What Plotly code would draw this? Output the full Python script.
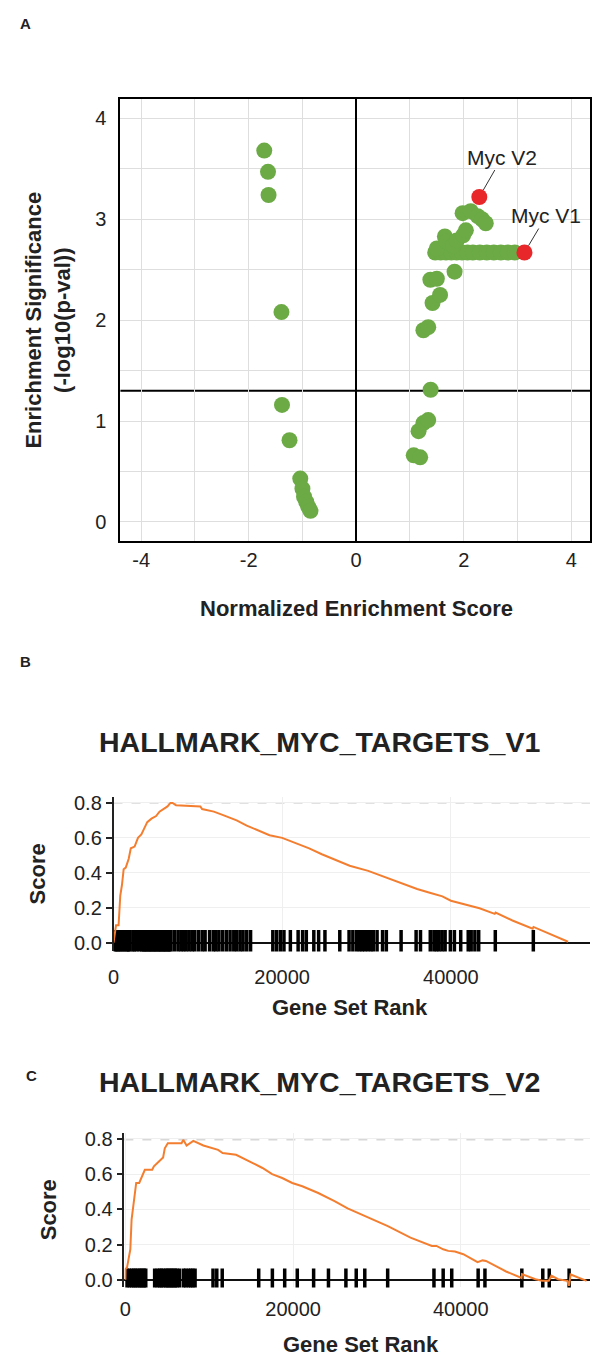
import math
import plotly.graph_objects as go

W, H = 592, 1359
FONT = "Liberation Sans, Arial, Helvetica, sans-serif"
GREEN = "#6BAA45"
RED = "#E8272A"
ORANGE = "#F47E30"
GRID = "#DEDEDE"
LIGHT = "#EFEFEF"
TXT = "#222222"

# ---------------- Panel A data ----------------
NES_OTHER = [-1.71, -1.64, -1.63, -1.39, -1.38, -1.24, -1.04, -1.00, -0.97, -0.93, -0.89, -0.85,
             1.07, 1.19, 1.16, 1.25, 1.34, 1.385,
             1.25, 1.34, 1.42, 1.56, 1.38, 1.50, 1.83,
             1.47, 1.57, 1.67, 1.77, 1.87, 1.97, 2.07, 2.17, 2.30, 2.43, 2.56, 2.69, 2.82, 2.95,
             1.50, 1.65, 1.68, 1.80, 1.87, 1.99, 2.04, 1.98, 2.13, 2.26, 2.34, 2.41]
SIG_OTHER = [3.68, 3.47, 3.24, 2.08, 1.16, 0.81, 0.43, 0.33, 0.25, 0.20, 0.15, 0.11,
             0.66, 0.64, 0.90, 0.98, 1.01, 1.31,
             1.90, 1.93, 2.17, 2.25, 2.40, 2.41, 2.48,
             2.67, 2.67, 2.67, 2.67, 2.67, 2.67, 2.67, 2.67, 2.67, 2.67, 2.67, 2.67, 2.67, 2.67,
             2.71, 2.83, 2.78, 2.74, 2.79, 2.84, 2.89, 3.06, 3.08, 3.03, 3.00, 2.96]
NES_MYC = [3.13, 2.29]
SIG_MYC = [2.67, 3.22]
MYC_LABELS = ["Myc V1", "Myc V2"]
SIG_THRESHOLD = -math.log10(0.05)
A_XTICKS = [-4, -2, 0, 2, 4]
A_XTICK_LABELS = ["-4", "-2", "0", "2", "4"]
A_YTICKS = [0, 1, 2, 3, 4]

# ---------------- Panel B data ----------------
B_RANK = [0, 300, 600, 800, 1000, 1200, 1450, 1800, 2050, 2500, 2900, 3300, 3600, 4000, 4500,
          5050, 5450, 6000, 6400, 6750, 7000, 7400, 8400, 9500, 10300, 10500, 11900, 13000,
          14600, 15800, 16900, 18500, 20000, 21600, 23200, 24700, 26300, 28000, 30200, 31700,
          32900, 34500, 36000, 37600, 39000, 40000, 41500, 42300, 43400, 45200, 45300, 47300,
          49700, 49800, 53900]
B_SCORE = [0.0, 0.10, 0.10, 0.27, 0.33, 0.42, 0.43, 0.48, 0.54, 0.55, 0.60, 0.62, 0.65, 0.69, 0.71,
           0.725, 0.75, 0.765, 0.78, 0.80, 0.80, 0.787, 0.785, 0.782, 0.78, 0.765, 0.75, 0.73,
           0.70, 0.67, 0.648, 0.615, 0.60, 0.57, 0.54, 0.506, 0.474, 0.44, 0.411, 0.383,
           0.364, 0.335, 0.307, 0.284, 0.265, 0.24, 0.222, 0.208, 0.197, 0.165, 0.172, 0.127,
           0.08, 0.09, 0.005]
B_HITS = [150, 350, 500, 700, 850, 1100, 1250, 1500, 1650, 1800, 1950, 2300, 2450, 2750, 3050,
          3350, 3500, 3650, 3800, 3950, 4100, 4250, 4400, 4550, 4700, 4850, 5000, 5150, 5300,
          5450, 5600, 5750, 5900, 6050, 6200, 6350, 6500, 6650, 6800,
          7200, 7640, 7990, 8300, 8610, 8960, 9310, 9630, 10070, 10510, 10860, 11390, 11830,
          12140, 12500, 12940, 13380, 13820, 14260, 14610, 15010, 15360, 15800, 16250,
          18890, 19330, 19780, 20210, 20970, 21890, 22420, 22860, 23750, 24320, 25070,
          26830, 27930, 28380, 28820, 29170, 29480, 29790, 30140, 30500, 30800, 31250, 31900,
          32350, 34100, 35880, 36400, 37560, 37990, 38300, 38600, 38960, 39320, 39940, 40420,
          41170, 42060, 42410, 42850, 43300, 45270, 49780]

# ---------------- Panel C data ----------------
C_RANK = [0, 20, 200, 350, 590, 740, 900, 1060, 1290, 1650, 1920, 2320, 3200, 3400, 4000, 4500,
          4700, 5060, 6700, 6900, 7300, 8100, 9300, 10500, 11060, 11600, 13200, 15200, 16350,
          17500, 18700, 19900, 21100, 23000, 25000, 26500, 27700, 28500, 31300, 34000, 36550,
          37100, 37900, 38500, 39300, 40300, 42000, 42600, 43000, 45400, 47250, 47300, 48900,
          49700, 50500, 50800, 51600, 52700, 52900, 53100, 53600, 55000]
C_SCORE = [0.0, 0.06, 0.07, 0.11, 0.173, 0.342, 0.408, 0.465, 0.55, 0.55, 0.578, 0.625, 0.625,
           0.644, 0.672, 0.695, 0.747, 0.776, 0.776, 0.795, 0.763, 0.789, 0.763, 0.744, 0.738,
           0.72, 0.71, 0.663, 0.635, 0.60, 0.578, 0.55, 0.531, 0.493, 0.446, 0.405, 0.38, 0.362,
           0.305, 0.239, 0.192, 0.192, 0.173, 0.164, 0.16, 0.145, 0.10, 0.11, 0.107, 0.047,
           0.01, 0.032, 0.003, -0.006, -0.006, 0.023, 0.003, -0.006, -0.034, 0.03, 0.02, -0.006]
C_HITS = [200, 470, 740, 980, 1180, 1410, 1650, 1850, 2040, 2240, 2430, 3490, 3800, 4080, 4270,
          4510, 4790, 4980, 5180, 5380, 5560, 5760, 5960, 6150, 6470, 6940, 7210, 7530, 7800,
          8040, 8310, 10450, 10900, 11550, 15900, 17530, 19000, 20500, 22450, 24220, 26300,
          27530, 28550, 31280, 36800, 37900, 38920, 42070, 42880, 47280, 49780, 50550, 52920]
GSEA_XTICKS = [0, 20000, 40000]
GSEA_YTICKS = [0.0, 0.2, 0.4, 0.6, 0.8]


def fx(p):
    return p / W


def fy(p):
    return 1 - p / H


fig = go.Figure()

# Panel A
fig.add_trace(go.Scatter(x=NES_OTHER, y=SIG_OTHER, mode="markers",
                         marker=dict(size=16, color=GREEN), xaxis="x", yaxis="y",
                         hoverinfo="skip"))
fig.add_trace(go.Scatter(x=NES_MYC, y=SIG_MYC, mode="markers",
                         marker=dict(size=16, color=RED), xaxis="x", yaxis="y",
                         text=MYC_LABELS))

# Panel B
fig.add_trace(go.Scatter(x=B_HITS, y=[0] * len(B_HITS), mode="markers",
                         marker=dict(symbol="line-ns", size=18, color="black",
                                     line=dict(width=3.5, color="black")),
                         xaxis="x2", yaxis="y2"))
fig.add_trace(go.Scatter(x=B_RANK, y=B_SCORE, mode="lines",
                         line=dict(color=ORANGE, width=2), xaxis="x2", yaxis="y2"))

# Panel C
fig.add_trace(go.Scatter(x=C_HITS, y=[0] * len(C_HITS), mode="markers",
                         marker=dict(symbol="line-ns", size=16, color="black",
                                     line=dict(width=3.5, color="black")),
                         xaxis="x3", yaxis="y3"))
fig.add_trace(go.Scatter(x=C_RANK, y=C_SCORE, mode="lines",
                         line=dict(color=ORANGE, width=2), xaxis="x3", yaxis="y3"))

tickfont = dict(family=FONT, size=20, color=TXT)

layout = dict(
    width=W, height=H, margin=dict(l=0, r=0, t=0, b=0),
    paper_bgcolor="white", plot_bgcolor="white", showlegend=False,
    font=dict(family=FONT, color=TXT),
    xaxis=dict(domain=[fx(116), 1], range=[-4.385, 4.349], tickvals=A_XTICKS,
               ticktext=A_XTICK_LABELS,
               showgrid=True, gridcolor=GRID, gridwidth=1,
               minor=dict(dtick=1, showgrid=True, gridcolor=GRID, gridwidth=1),
               showline=True, mirror=True, linecolor="black", linewidth=2,
               zeroline=True, zerolinecolor="black", zerolinewidth=2,
               ticks="", tickfont=tickfont, ticklabelstandoff=0),
    yaxis=dict(domain=[fy(539), fy(95)], range=[-0.187, 4.187], tickvals=A_YTICKS,
               showgrid=True, gridcolor=GRID, gridwidth=1,
               minor=dict(dtick=0.5, showgrid=True, gridcolor=GRID, gridwidth=1),
               showline=True, mirror=True, linecolor="black", linewidth=2,
               zeroline=False, ticks="", tickfont=tickfont, ticklabelstandoff=8),
    xaxis2=dict(domain=[fx(109), 1], range=[0, 56500], tickvals=GSEA_XTICKS, tickformat="d",
                showgrid=True, gridcolor=LIGHT, zeroline=False, showline=False,
                ticks="", tickfont=tickfont, ticklabelstandoff=12, anchor="y2"),
    yaxis2=dict(domain=[fy(952), fy(797)], range=[-0.05, 0.832], tickvals=GSEA_YTICKS,
                tickformat=".1f", showgrid=True, gridcolor=LIGHT,
                zeroline=True, zerolinecolor="#111111", zerolinewidth=1.5,
                showline=True, linecolor="#222222", linewidth=1.5,
                ticks="outside", ticklen=6, tickwidth=1.5, tickcolor="#222222",
                tickfont=tickfont, anchor="x2"),
    xaxis3=dict(domain=[fx(120), 1], range=[-120, 55410], tickvals=GSEA_XTICKS, tickformat="d",
                showgrid=True, gridcolor=LIGHT, zeroline=False, showline=False,
                ticks="", tickfont=tickfont, ticklabelstandoff=8, anchor="y3"),
    yaxis3=dict(domain=[fy(1290), fy(1135)], range=[-0.0435, 0.832], tickvals=GSEA_YTICKS,
                tickformat=".1f", showgrid=True, gridcolor=LIGHT,
                zeroline=True, zerolinecolor="#111111", zerolinewidth=1.5,
                showline=True, linecolor="#222222", linewidth=1.5,
                ticks="outside", ticklen=6, tickwidth=1.5, tickcolor="#222222",
                tickfont=tickfont, anchor="x3"),
)
fig.update_layout(**layout)

# Reference lines
fig.add_shape(type="line", xref="paper", yref="y", x0=fx(116), x1=1,
              y0=SIG_THRESHOLD, y1=SIG_THRESHOLD, line=dict(color="black", width=2),
              layer="below")
fig.add_shape(type="line", xref="paper", yref="y2", x0=fx(109), x1=1,
              y0=max(B_SCORE), y1=max(B_SCORE), line=dict(color="#D8D8D8", width=1.5, dash="dash"),
              layer="below")
fig.add_shape(type="line", xref="paper", yref="y3", x0=fx(120), x1=1,
              y0=max(C_SCORE), y1=max(C_SCORE), line=dict(color="#D8D8D8", width=1.5, dash="dash"),
              layer="below")

# Myc labels
for xv, yv, lab, ax, ay in zip(NES_MYC, SIG_MYC, MYC_LABELS, [22, 23], [-37, -40]):
    fig.add_annotation(x=xv, y=yv, xref="x", yref="y", text=lab, showarrow=True,
                       arrowhead=0, arrowwidth=1, arrowcolor="#333333", ax=ax, ay=ay,
                       standoff=8, font=dict(family=FONT, size=21, color=TXT))


def note(text, x, y, size, bold=True, angle=0):
    t = f"<b>{text}</b>" if bold else text
    fig.add_annotation(x=fx(x), y=fy(y), xref="paper", yref="paper", text=t,
                       showarrow=False, textangle=angle, xanchor="center", yanchor="middle",
                       font=dict(family=FONT, size=size, color=TXT))


note("A", 20, 19, 15)
note("B", 20, 660, 15)
note("C", 26, 1077, 15)
note("Normalized Enrichment Score", 355, 607, 22)
note("Enrichment Significance<br>(-log10(p-val))", 43, 317, 22, angle=-90)
note("HALLMARK_MYC_TARGETS_V1", 318, 741, 28.5)
note("Score", 32, 874, 22, angle=-90)
note("Gene Set Rank", 349, 1008, 22)
note("HALLMARK_MYC_TARGETS_V2", 318, 1083, 28.5)
note("Score", 43, 1212, 22, angle=-90)
note("Gene Set Rank", 360, 1347, 22)

fig.write_html("out.html")
